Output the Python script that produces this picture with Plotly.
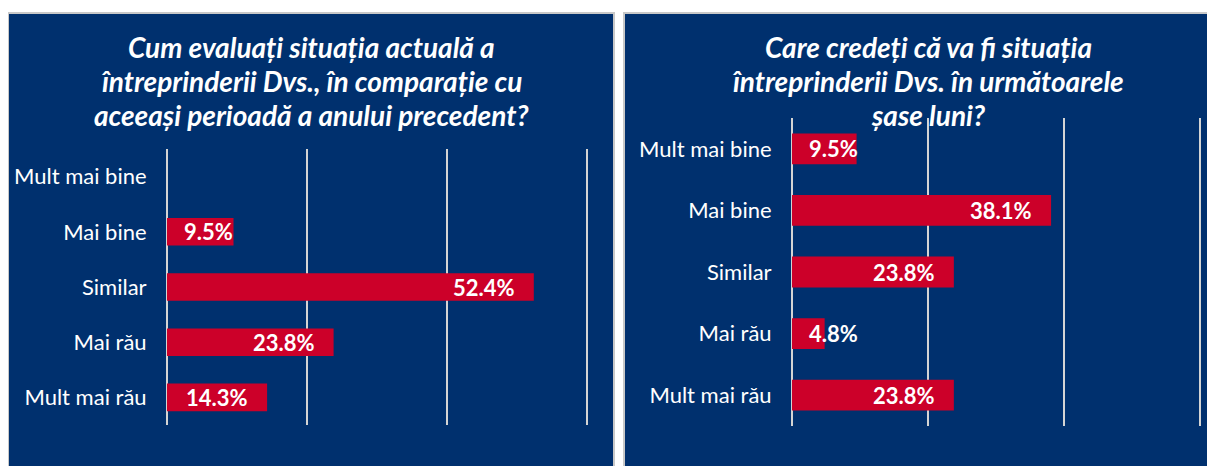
import plotly.graph_objects as go

# Data
categories = ["Mult mai bine", "Mai bine", "Similar", "Mai rău", "Mult mai rău"]
current_vals = [None, 9.5, 52.4, 23.8, 14.3]
future_vals = [9.5, 38.1, 23.8, 4.8, 23.8]
title_left = ["Cum evaluați situația actuală a",
              "întreprinderii Dvs., în comparație cu",
              "aceeași perioadă a anului precedent?"]
title_right = ["Care credeți că va fi situația",
               "întreprinderii Dvs. în următoarele",
               "șase luni?"]
x_ticks = [0, 20, 40, 60]

# the page body adds an 8px margin, so the figure is drawn 8px in
OFF = 8
W, H = 1215 - OFF, 466 - OFF
NAVY = "#00306e"
RED = "#cc0029"
GRID = "#d4d4d4"
FONT = "Lato"
X_MAX = 62  # a little past 60 so the last gridline is drawn


def px(x):
    return (x - OFF) / W


def py(y):
    return 1 - (y - OFF) / H


fig = go.Figure()

panels = [
    # values, axis suffix, x px of 0 and 60, y-domain px
    (current_vals, "", (167, 587), (149, 425)),
    (future_vals, "2", (792, 1200), (118, 426)),
]

for vals, sfx, (x0, x60), (y0, y1) in panels:
    x1 = x0 + (x60 - x0) * X_MAX / 60
    fig.add_trace(go.Bar(
        x=[v if v is not None else 0 for v in vals],
        y=categories,
        orientation="h",
        width=0.5,
        marker=dict(color=RED, line=dict(width=0)),
        xaxis="x" + sfx,
        yaxis="y" + sfx,
        hoverinfo="skip",
        showlegend=False,
    ))
    fig.update_layout(**{
        "xaxis" + sfx: dict(
            domain=[px(x0), px(x1)],
            range=[0, X_MAX],
            tickvals=x_ticks,
            showticklabels=False,
            showgrid=True,
            gridcolor=GRID,
            gridwidth=1.5,
            zeroline=True,
            zerolinecolor=GRID,
            zerolinewidth=1.5,
            anchor="y" + sfx,
        ),
        "yaxis" + sfx: dict(
            domain=[py(y1), py(y0)],
            categoryorder="array",
            categoryarray=categories,
            autorange="reversed",
            showgrid=False,
            zeroline=False,
            ticks="outside",
            ticklen=15,
            tickcolor="rgba(0,0,0,0)",
            tickfont=dict(family=FONT, size=22, color="white"),
            anchor="x" + sfx,
        ),
    })
    # value labels: inside end, or from the base when the bar is too short
    for cat, v in zip(categories, vals):
        if v is None:
            continue
        if v < 12:
            ann = dict(x=0, xanchor="left", xshift=15)
        else:
            ann = dict(x=v, xanchor="right", xshift=-17)
        fig.add_annotation(
            y=cat, xref="x" + sfx, yref="y" + sfx,
            text=f"<b>{v:.1f}%</b>", showarrow=False, yanchor="middle",
            font=dict(family=FONT, size=22, color="white"),
            **ann,
        )

# panel backgrounds
for x0, x1 in [(8, 614), (624, 1232)]:
    fig.add_shape(
        type="rect", xref="paper", yref="paper",
        x0=px(x0), x1=px(x1), y0=py(480), y1=py(13),
        fillcolor=NAVY, line=dict(color="#c8c8c8", width=2),
        layer="below",
    )

# titles, one annotation per line
for lines, cx in [(title_left, (8 + 614) / 2), (title_right, (624 + 1232) / 2)]:
    for i, line in enumerate(lines):
        fig.add_annotation(
            x=px(cx), y=py(47 + 34 * i), xref="paper", yref="paper",
            text=f"<b><i>{line}</i></b>", showarrow=False,
            xanchor="center", yanchor="middle", align="center",
            font=dict(family=FONT, size=28, color="white"),
        )

fig.update_layout(
    width=W, height=H,
    margin=dict(l=0, r=0, t=0, b=0),
    paper_bgcolor="white",
    plot_bgcolor="rgba(0,0,0,0)",
    bargap=0.5,
)

fig.write_html("out.html")
